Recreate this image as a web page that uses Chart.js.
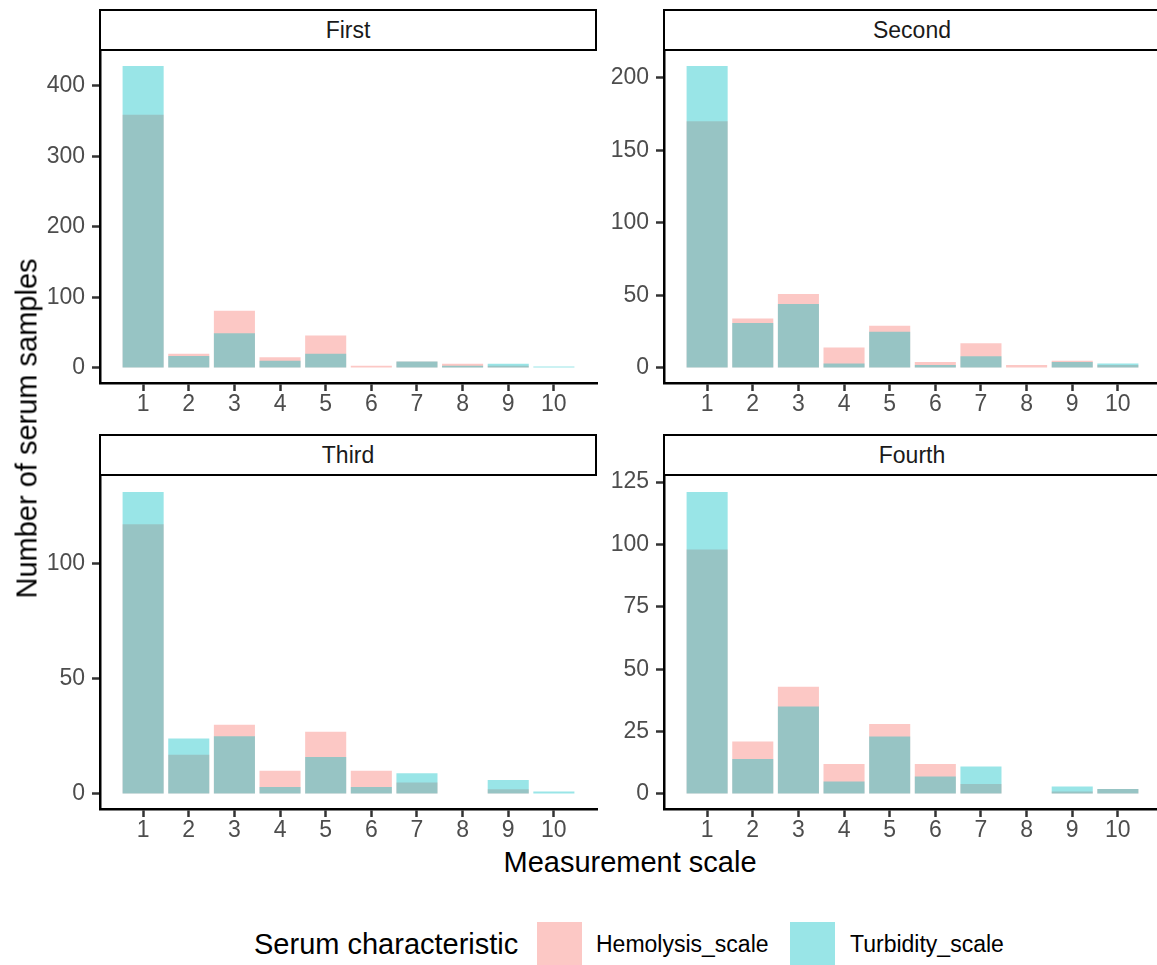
<!DOCTYPE html>
<html>
<head>
<meta charset="utf-8">
<script src="https://cdn.jsdelivr.net/npm/chart.js@4.4.1/dist/chart.umd.min.js"></script>
<style>
  html, body { margin: 0; padding: 0; background: #fff; }
  body { width: 1157px; height: 965px; position: relative; overflow: hidden;
         font-family: 'Liberation Sans', Arial, sans-serif; }
  .panel { position: absolute; }
  .strip { position: absolute; box-sizing: border-box; border: 2px solid #000; background: #fff;
           display: flex; align-items: center; justify-content: center;
           font-size: 23px; color: #1a1a1a; }
  .txt { position: absolute; white-space: nowrap; line-height: 1; }
  .key { position: absolute; width: 45px; height: 45px; }
</style>
</head>
<body>

<canvas class="panel" id="pFirst"  width="575" height="390" style="left:30px;top:30px"></canvas>
<canvas class="panel" id="pSecond" width="575" height="390" style="left:594px;top:30px"></canvas>
<canvas class="panel" id="pThird"  width="575" height="390" style="left:30px;top:456px"></canvas>
<canvas class="panel" id="pFourth" width="575" height="390" style="left:594px;top:456px"></canvas>

<div class="strip" style="left:99px;top:9px;width:498px;height:42px">First</div>
<div class="strip" style="left:663px;top:9px;width:498px;height:42px">Second</div>
<div class="strip" style="left:99px;top:434px;width:498px;height:42px">Third</div>
<div class="strip" style="left:663px;top:434px;width:498px;height:42px">Fourth</div>

<div class="txt" style="left:-223px;top:414px;width:500px;text-align:center;font-size:29px;color:#000;transform:rotate(-90deg)">Number of serum samples</div>
<div class="txt" style="left:380px;top:848px;width:500px;text-align:center;font-size:29px;color:#000">Measurement scale</div>

<div class="txt" style="left:254px;top:930px;font-size:29px;color:#000">Serum characteristic</div>
<div class="key" style="left:537px;top:922px;background:rgba(248,118,109,0.4)"></div>
<div class="txt" style="left:596px;top:933px;font-size:23px;color:#000">Hemolysis_scale</div>
<div class="key" style="left:790px;top:922px;background:rgba(0,191,196,0.4)"></div>
<div class="txt" style="left:850px;top:933px;font-size:23px;color:#000">Turbidity_scale</div>

<script>
// Measurement scale values on the x axis
const categories = [1, 2, 3, 4, 5, 6, 7, 8, 9, 10];

// Counts of serum samples per scale value (null = no samples)
const firstHemolysis  = [359, 20, 81, 15, 46, 3, 9, 6, 3, null];
const firstTurbidity  = [428, 17, 49, 10, 20, null, 9, 3, 6, 2];
const secondHemolysis = [170, 34, 51, 14, 29, 4, 17, 2, 5, 2];
const secondTurbidity = [208, 31, 44, 3, 25, 2, 8, null, 4, 3];
const thirdHemolysis  = [117, 17, 30, 10, 27, 10, 5, null, 2, null];
const thirdTurbidity  = [131, 24, 25, 3, 16, 3, 9, null, 6, 1];
const fourthHemolysis = [98, 21, 43, 12, 28, 12, 4, null, 1, 2];
const fourthTurbidity = [121, 14, 35, 5, 23, 7, 11, null, 3, 2];

// Y axis tick values for each panel
const firstTicks  = [0, 100, 200, 300, 400];
const secondTicks = [0, 50, 100, 150, 200];
const thirdTicks  = [0, 50, 100];
const fourthTicks = [0, 25, 50, 75, 100, 125];

const hemolysisFill = 'rgba(248,118,109,0.4)';
const turbidityFill = 'rgba(0,191,196,0.4)';

Chart.defaults.font.family = "'Liberation Sans', Arial, sans-serif";

const tickFont = { size: 23 };
const axisLine = { display: true, color: '#000', width: 2.5 };
const tickGrid = { display: true, drawOnChartArea: false, drawTicks: true, offset: false,
                   tickLength: 8, tickColor: '#333', tickWidth: 2.5 };

function drawPanel(id, hemolysis, turbidity, yTicks) {
  const all = hemolysis.concat(turbidity).filter(v => v != null);
  const top = Math.max(...all);
  const points = arr => categories.map((c, i) => ({ x: c, y: arr[i] }));
  const barOpts = { grouped: false, categoryPercentage: 0.9, barPercentage: 1, borderWidth: 0 };
  return new Chart(document.getElementById(id), {
    type: 'bar',
    data: {
      datasets: [
        Object.assign({ label: 'Turbidity_scale', data: points(turbidity),
                        backgroundColor: turbidityFill, order: 1 }, barOpts),
        Object.assign({ label: 'Hemolysis_scale', data: points(hemolysis),
                        backgroundColor: hemolysisFill, order: 2 }, barOpts)
      ]
    },
    options: {
      responsive: false,
      animation: false,
      devicePixelRatio: 1,
      layout: { padding: { top: 21, right: 8, left: 0, bottom: 0 } },
      plugins: { legend: { display: false }, tooltip: { enabled: false } },
      scales: {
        x: {
          type: 'linear',
          offset: false,
          min: categories[0] - 0.945,
          max: categories[categories.length - 1] + 0.945,
          grid: tickGrid,
          border: axisLine,
          ticks: { color: '#4d4d4d', font: tickFont, padding: 0, autoSkip: false,
                   maxRotation: 0, callback: v => String(v) },
          afterBuildTicks: s => { s.ticks = categories.map(v => ({ value: v })); },
          afterFit: s => { s.height = 37; }
        },
        y: {
          min: -0.05 * top,
          max: 1.05 * top,
          grid: tickGrid,
          border: axisLine,
          ticks: { color: '#4d4d4d', font: tickFont, padding: 7, callback: v => String(v) },
          afterBuildTicks: s => { s.ticks = yTicks.map(v => ({ value: v })); },
          afterFit: s => { s.width = 70; }
        }
      }
    }
  });
}

drawPanel('pFirst',  firstHemolysis,  firstTurbidity,  firstTicks);
drawPanel('pSecond', secondHemolysis, secondTurbidity, secondTicks);
drawPanel('pThird',  thirdHemolysis,  thirdTurbidity,  thirdTicks);
drawPanel('pFourth', fourthHemolysis, fourthTurbidity, fourthTicks);
</script>
</body>
</html>
